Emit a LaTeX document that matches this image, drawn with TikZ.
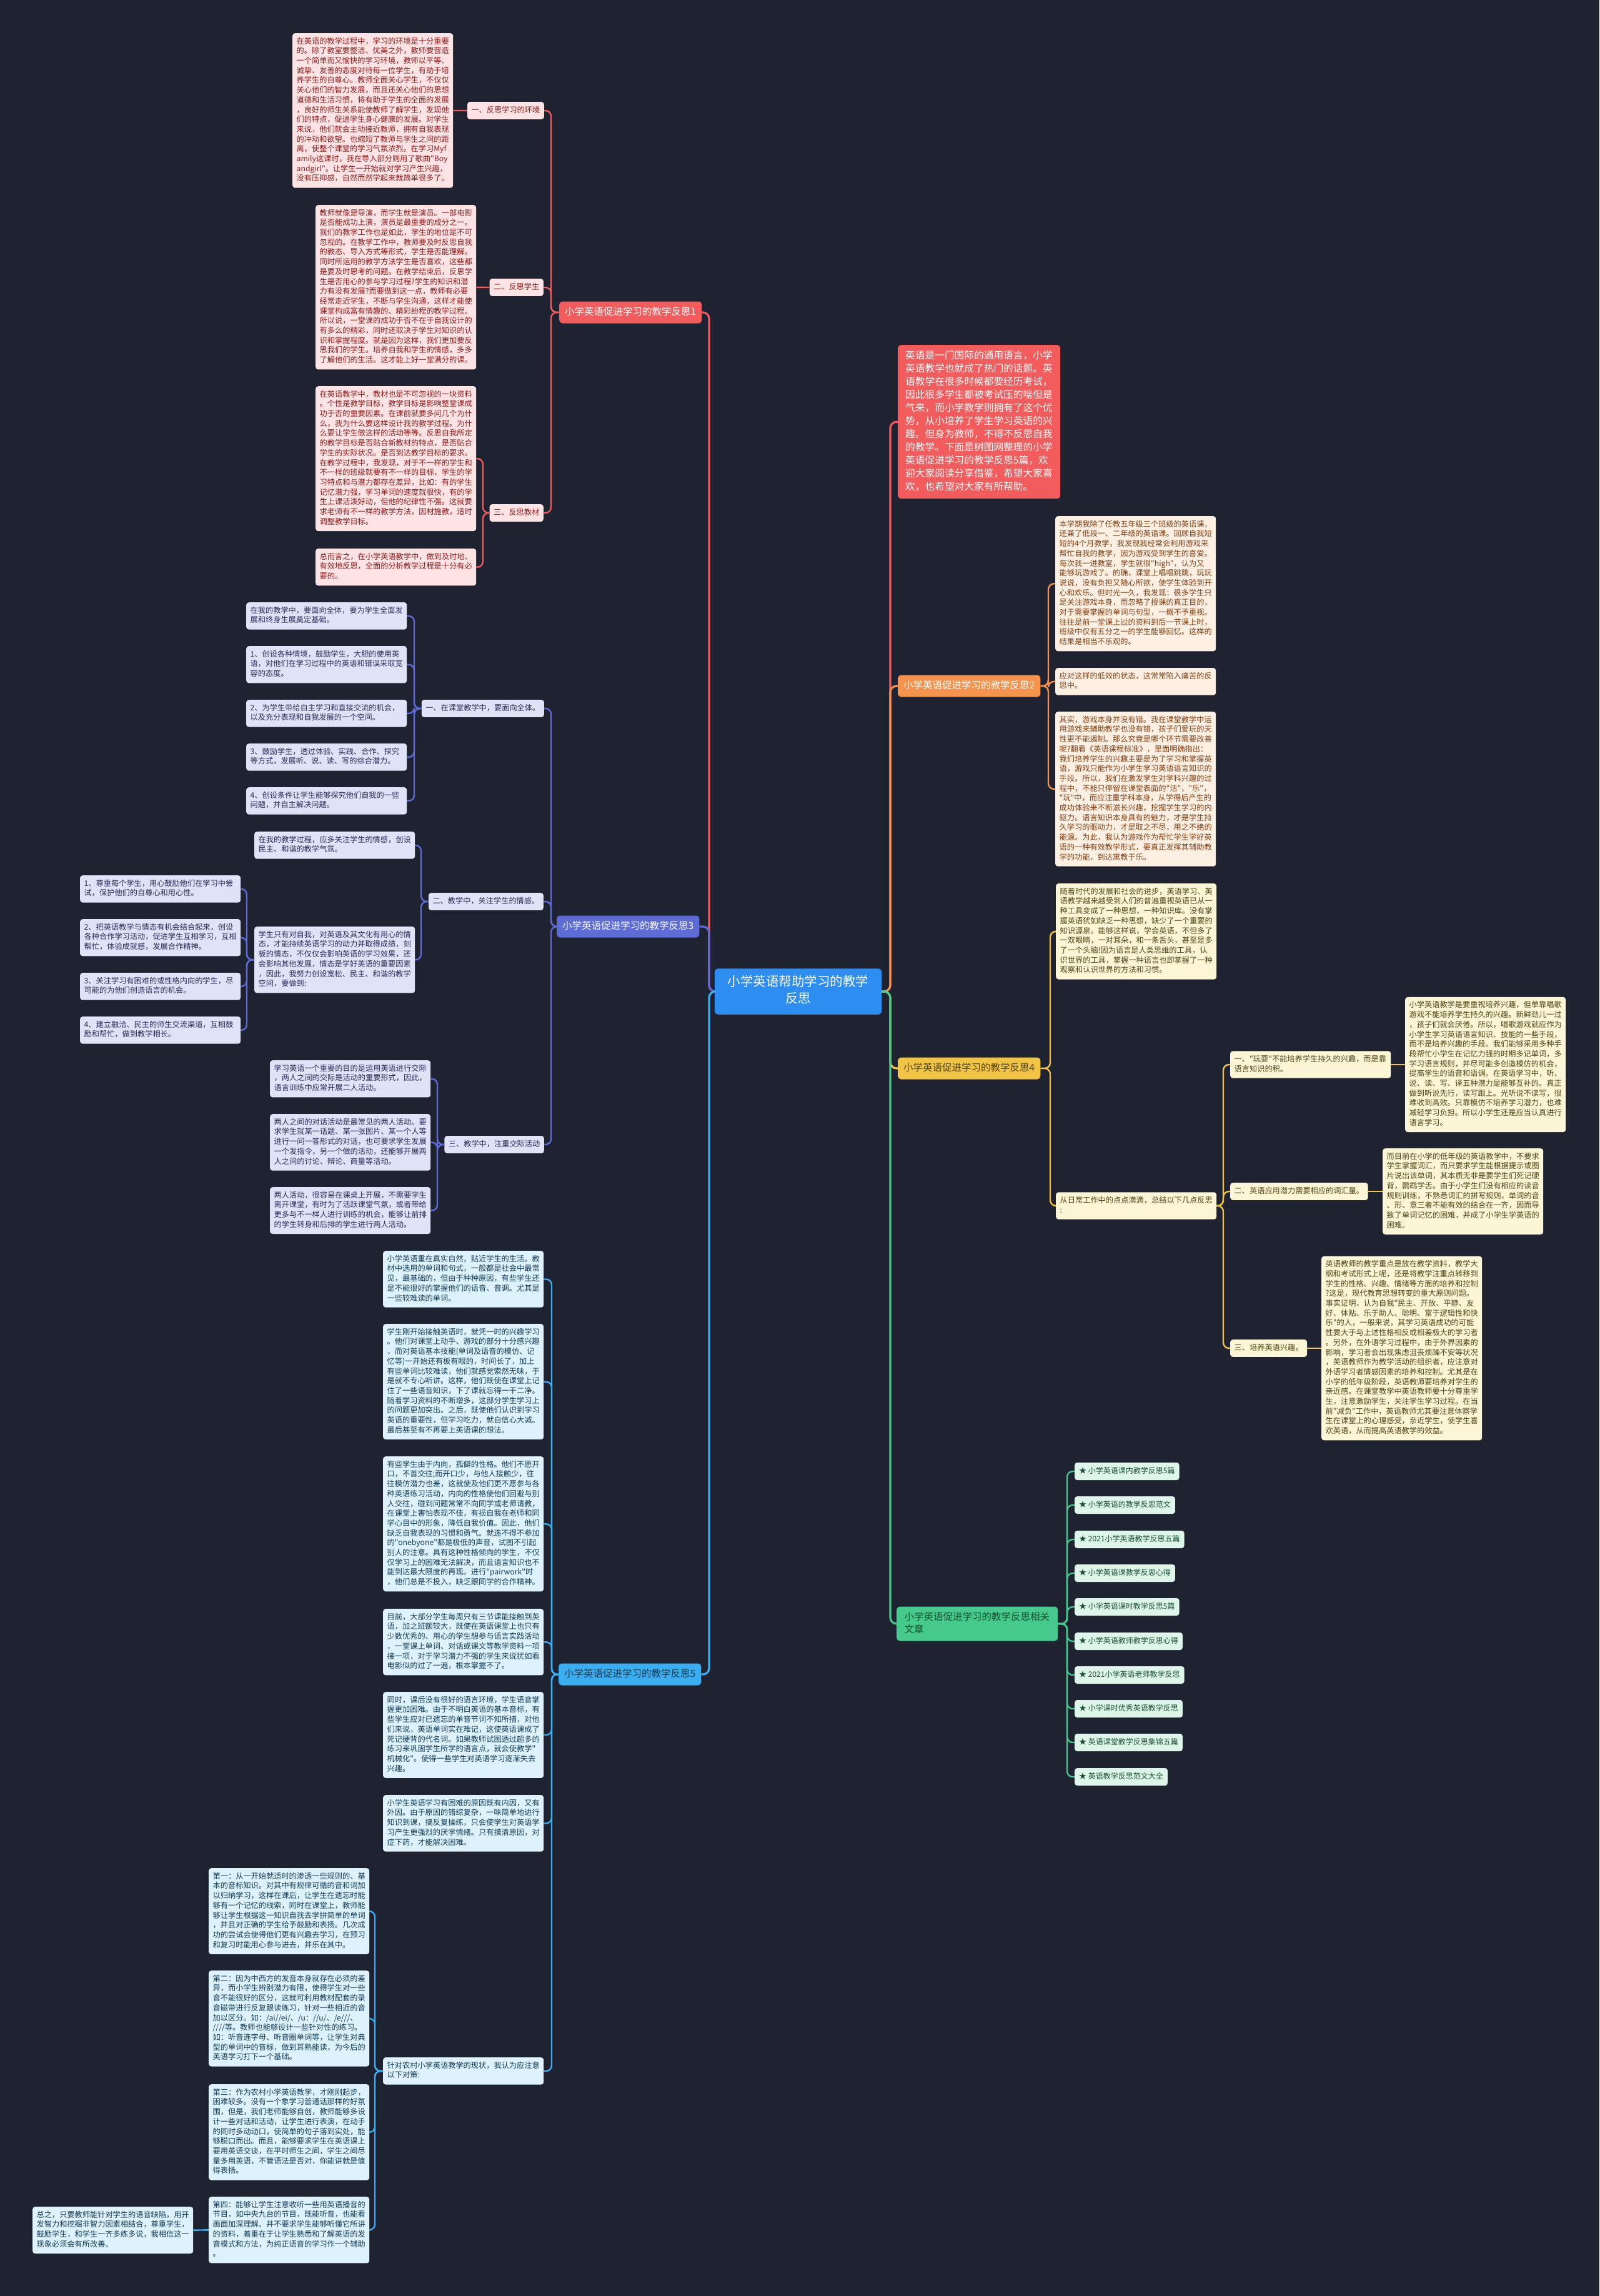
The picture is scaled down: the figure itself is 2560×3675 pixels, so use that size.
\documentclass[tikz,border=0pt]{standalone}
\usepackage{fontspec}
\newfontfamily\cjk{Noto Sans CJK SC}
\definecolor{bgc}{HTML}{1F2230}
\definecolor{cred}{HTML}{F25C5C}
\definecolor{credleaf}{HTML}{FDE3E3}
\definecolor{credtext}{HTML}{8C1C1C}
\definecolor{corg}{HTML}{F5924C}
\definecolor{corgleaf}{HTML}{FDF0E3}
\definecolor{corgtext}{HTML}{7F3F12}
\definecolor{cgold}{HTML}{F2C443}
\definecolor{cgoldleaf}{HTML}{FCF5D6}
\definecolor{cgoldtext}{HTML}{4F4214}
\definecolor{cgrn}{HTML}{45C98C}
\definecolor{cgrnleaf}{HTML}{DDF6E9}
\definecolor{cgrntext}{HTML}{1B4D33}
\definecolor{cind}{HTML}{5E6DD6}
\definecolor{cindleaf}{HTML}{E0E3F8}
\definecolor{cindtext}{HTML}{262B55}
\definecolor{csky}{HTML}{3AAEF0}
\definecolor{cskyleaf}{HTML}{DDF2FD}
\definecolor{cskytext}{HTML}{143A55}
\definecolor{croot}{HTML}{2D8DF0}
\newcommand{\fontleaf}{\cjk\fontsize{12.2pt}{15.7pt}\selectfont}
\newcommand{\fontbranch}{\cjk\fontsize{15.5pt}{20pt}\selectfont}
\newcommand{\fontintro}{\cjk\fontsize{15.7pt}{21pt}\selectfont}
\newcommand{\fontroot}{\cjk\fontsize{20.5pt}{27pt}\selectfont}
\newcommand{\fontlist}{\cjk\fontsize{12pt}{15.5pt}\selectfont}
\tikzset{
  leafbase/.style={rounded corners=4pt, inner xsep=6.5pt, inner ysep=6pt, text width=244pt, align=left, font=\fontleaf, execute at begin node=\strut, execute at end node=\strut},
  labbase/.style={rounded corners=4pt, inner xsep=6.5pt, inner ysep=6pt, font=\fontleaf, execute at begin node=\strut},
  lfred/.style={leafbase, fill=credleaf, text=credtext, anchor=north west},
  lbred/.style={labbase, fill=credleaf, text=credtext, anchor=east},
  lfind/.style={leafbase, fill=cindleaf, text=cindtext, anchor=north west},
  lbind/.style={labbase, fill=cindleaf, text=cindtext, anchor=east},
  lfsky/.style={leafbase, fill=cskyleaf, text=cskytext, anchor=north west},
  lforg/.style={leafbase, fill=corgleaf, text=corgtext, anchor=north west},
  lfgold/.style={leafbase, fill=cgoldleaf, text=cgoldtext, anchor=west},
  lbgold/.style={labbase, fill=cgoldleaf, text=cgoldtext, anchor=west},
  lilist/.style={rounded corners=4pt, inner xsep=7pt, inner ysep=6.25pt, font=\fontlist, fill=cgrnleaf, text=cgrntext, anchor=west, execute at begin node=\strut},
  branchbox/.style={rounded corners=5pt, inner xsep=9pt, inner ysep=7.5pt, font=\fontbranch, execute at begin node=\strut},
  conn/.style={line width=2.4pt, rounded corners=9pt},
  mainconn/.style={line width=3.2pt, rounded corners=10pt}
}
\begin{document}
\begin{tikzpicture}[x=1pt,y=-1pt]
\fill[bgc] (0,0) rectangle (2560,3675);
\useasboundingbox (0,0) rectangle (2560,3675);

% trunk x positions
\coordinate (tL) at (1135,0);
\coordinate (tR) at (1425,0);
\coordinate (tA) at (882,0);
\coordinate (tAc) at (773,0);
\coordinate (tC1) at (663,0);
\coordinate (tC2) at (674,0);
\coordinate (tC2b) at (395,0);
\coordinate (tC3) at (700,0);
\coordinate (tE) at (883,0);
\coordinate (tEz) at (600,0);
\coordinate (tB) at (1678,0);
\coordinate (tD) at (1681,0);
\coordinate (tDb) at (1958,0);
\coordinate (tG) at (1708,0);

% root
\node[rounded corners=6pt, fill=croot, text=white, font=\fontroot, align=center, inner xsep=21pt, inner ysep=10.5pt, execute at begin node=\strut] (root) at (1277.5,1587) {小学英语帮助学习的教学\\反思\strut};

% ===== Branch 1 =====
\node[branchbox, fill=cred, text=white, anchor=west] (b1) at (895,500) {小学英语促进学习的教学反思1};
\node[lbred] (b1l1) at (871,177) {一、反思学习的环境};
\node[lbred] (b1l2) at (870,460) {二、反思学生};
\node[lbred] (b1l3) at (870,821) {三、反思教材};
\node[lfred] (b1a) at (468,53) {在英语的教学过程中，学习的环境是十分重要\\的。除了教室要整洁、优美之外，教师要营造\\一个简单而又愉快的学习环境，教师以平等、\\诚挚、友善的态度对待每一位学生，有助于培\\养学生的自尊心。教师全面关心学生，不仅仅\\关心他们的智力发展，而且还关心他们的思想\\道德和生活习惯，将有助于学生的全面的发展\\，良好的师生关系能使教师了解学生，发现他\\们的特点，促进学生身心健康的发展。对学生\\来说，他们就会主动接近教师，拥有自我表现\\的冲动和欲望。也缩短了教师与学生之间的距\\离，使整个课堂的学习气氛浓烈。在学习Myf\\amily这课时，我在导入部分则用了歌曲"Boy\\andgirl"。让学生一开始就对学习产生兴趣，\\没有压抑感，自然而然学起来就简单很多了。};
\node[lfred] (b1b) at (505,328) {教师就像是导演，而学生就是演员。一部电影\\是否能成功上演，演员是最重要的成分之一。\\我们的教学工作也是如此，学生的地位是不可\\忽视的。在教学工作中，教师要及时反思自我\\的教态、导入方式等形式，学生是否能理解。\\同时所运用的教学方法学生是否喜欢，这些都\\是要及时思考的问题。在教学结束后，反思学\\生是否用心的参与学习过程?学生的知识和潜\\力有没有发展?而要做到这一点，教师有必要\\经常走近学生，不断与学生沟通，这样才能使\\课堂构成富有情趣的、精彩纷程的教学过程。\\所以说，一堂课的成功于否不在于自我设计的\\有多么的精彩，同时还取决于学生对知识的认\\识和掌握程度。就是因为这样，我们更加要反\\思我们的学生。培养自我和学生的情感，多多\\了解他们的生活。这才能上好一堂满分的课。};
\node[lfred] (b1c) at (505,618) {在英语教学中，教材也是不可忽视的一块资料\\。个性是教学目标，教学目标是影响整堂课成\\功于否的重要因素。在课前就要多问几个为什\\么，我为什么要这样设计我的教学过程。为什\\么要让学生做这样的活动等等。反思自我所定\\的教学目标是否贴合新教材的特点，是否贴合\\学生的实际状况。是否到达教学目标的要求。\\在教学过程中，我发现，对于不一样的学生和\\不一样的班级就要有不一样的目标，学生的学\\习特点和与潜力都存在差异，比如：有的学生\\记忆潜力强，学习单词的速度就很快，有的学\\生上课活泼好动，但他的纪律性不强。这就要\\求老师有不一样的教学方法，因材施教，适时\\调整教学目标。};
\node[lfred] (b1d) at (505,878) {总而言之，在小学英语教学中，做到及时地、\\有效地反思，全面的分析教学过程是十分有必\\要的。};

\draw[conn, draw=cred] (b1.west) -- (b1.west -| tA) |- (b1l1.east);
\draw[conn, draw=cred] (b1.west) -- (b1.west -| tA) |- (b1l2.east);
\draw[conn, draw=cred] (b1.west) -- (b1.west -| tA) |- (b1l3.east);
\draw[conn, draw=cred] (b1l1.west) -- (b1a.east);
\draw[conn, draw=cred] (b1l2.west) -- (b1b.east);
\draw[conn, draw=cred] (b1l3.west) -- (b1l3.west -| tAc) |- (b1c.east);
\draw[conn, draw=cred] (b1l3.west) -- (b1l3.west -| tAc) |- (b1d.east);

% ===== Branch 3 =====
\node[branchbox, fill=cind, text=white, anchor=west] (b3) at (891,1483) {小学英语促进学习的教学反思3};
\node[lbind] (b3l1) at (871,1134) {一、在课堂教学中，要面向全体。};
\node[lbind] (b3l2) at (870,1443) {二、教学中，关注学生的情感。};
\node[lbind] (b3l3) at (871,1832) {三、教学中，注重交际活动};
\node[lfind] (b3a1) at (394,964) {在我的教学中，要面向全体，要为学生全面发\\展和终身生展奠定基础。};
\node[lfind] (b3a2) at (394,1034) {1、创设各种情境，鼓励学生，大胆的使用英\\语，对他们在学习过程中的英语和错误采取宽\\容的态度。};
\node[lfind] (b3a3) at (394,1120) {2、为学生带给自主学习和直接交流的机会，\\以及充分表现和自我发展的一个空间。};
\node[lfind] (b3a4) at (394,1190) {3、鼓励学生，透过体验、实践、合作、探究\\等方式，发展听、说、读、写的综合潜力。};
\node[lfind] (b3a5) at (394,1260) {4、创设条件让学生能够探究他们自我的一些\\问题，并自主解决问题。};
\node[lfind] (b3b1) at (407,1331) {在我的教学过程，应多关注学生的情感，创设\\民主、和谐的教学气氛。};
\node[lfind] (b3b2) at (407,1483) {学生只有对自我，对英语及其文化有用心的情\\态，才能持续英语学习的动力并取得成绩，刻\\板的情态，不仅仅会影响英语的学习效果，还\\会影响其他发展，情态是学好英语的重要因素\\，因此，我努力创设宽松、民主、和谐的教学\\空间，要做到:};
\node[lfind] (b3c1) at (128,1401) {1、尊重每个学生，用心鼓励他们在学习中尝\\试，保护他们的自尊心和用心性。};
\node[lfind] (b3c2) at (128,1471) {2、把英语教学与情态有机会结合起来，创设\\各种合作学习活动，促进学生互相学习，互相\\帮忙，体验成就感，发展合作精神。};
\node[lfind] (b3c3) at (128,1557) {3、关注学习有困难的或性格内向的学生，尽\\可能的为他们创造语言的机会。};
\node[lfind] (b3c4) at (128,1627) {4、建立融洽、民主的师生交流渠道，互相鼓\\励和帮忙，做到教学相长。};
\node[lfind] (b3d1) at (432,1697) {学习英语一个重要的目的是运用英语进行交际\\，两人之间的交际是活动的重要形式，因此，\\语言训练中应常开展二人活动。};
\node[lfind] (b3d2) at (432,1783) {两人之间的对话活动是最常见的两人活动。要\\求学生就某一话题、某一张图片、某一个人等\\进行一问一答形式的对话，也可要求学生发展\\一个发指令，另一个做的活动，还能够开展两\\人之间的讨论、辩论、商量等活动。};
\node[lfind] (b3d3) at (432,1900) {两人活动，很容易在课桌上开展，不需要学生\\离开课堂，有时为了活跃课堂气氛，或者带给\\更多与不一样人进行训练的机会，能够让前排\\的学生转身和后排的学生进行两人活动。};

\foreach \n in {b3l1,b3l2,b3l3}
  \draw[conn, draw=cind] (b3.west) -- (b3.west -| tA) |- (\n.east);
\foreach \n in {b3a1,b3a2,b3a3,b3a4,b3a5}
  \draw[conn, draw=cind] (b3l1.west) -- (b3l1.west -| tC1) |- (\n.east);
\foreach \n in {b3b1,b3b2}
  \draw[conn, draw=cind] (b3l2.west) -- (b3l2.west -| tC2) |- (\n.east);
\foreach \n in {b3c1,b3c2,b3c3,b3c4}
  \draw[conn, draw=cind] (b3b2.west) -- (b3b2.west -| tC2b) |- (\n.east);
\foreach \n in {b3d1,b3d2,b3d3}
  \draw[conn, draw=cind] (b3l3.west) -- (b3l3.west -| tC3) |- (\n.east);

% ===== Branch 5 =====
\node[branchbox, fill=csky, text=cskytext, anchor=west] (b5) at (894,2680) {小学英语促进学习的教学反思5};
\node[lfsky] (b5a) at (613,2002) {小学英语重在真实自然，贴近学生的生活。教\\材中选用的单词和句式，一般都是社会中最常\\见，最基础的，但由于种种原因，有些学生还\\是不能很好的掌握他们的语音、音调。尤其是\\一些较难读的单词。};
\node[lfsky] (b5b) at (613,2119) {学生刚开始接触英语时，就凭一时的兴趣学习\\。他们对课堂上动手、游戏的部分十分感兴趣\\，而对英语基本技能(单词及语音的模仿、记\\忆等)一开始还有板有眼的，时间长了，加上\\有些单词比较难读，他们就感觉索然无味，于\\是就不专心听讲。这样，他们既使在课堂上记\\住了一些语音知识，下了课就忘得一干二净。\\随着学习资料的不断增多，这部分学生学习上\\的问题更加突出。之后，既使他们认识到学习\\英语的重要性，但学习吃力，就自信心大减。\\最后甚至有不再要上英语课的想法。};
\node[lfsky] (b5c) at (613,2331) {有些学生由于内向，孤僻的性格。他们不愿开\\口，不善交往;而开口少，与他人接触少，往\\往模仿潜力也差，这就使及他们更不愿参与各\\种英语练习活动，内向的性格使他们回避与别\\人交往，碰到问题常常不向同学或老师请教，\\在课堂上害怕表现不佳，有损自我在老师和同\\学心目中的形象，降低自我价值。因此，他们\\缺乏自我表现的习惯和勇气。就连不得不参加\\的"onebyone"都是极低的声音，试图不引起\\别人的注意。具有这种性格倾向的学生，不仅\\仅学习上的困难无法解决，而且语言知识也不\\能到达最大限度的再现。进行"pairwork"时\\，他们总是不投入，缺乏跟同学的合作精神。};
\node[lfsky] (b5d) at (613,2575) {目前，大部分学生每周只有三节课能接触到英\\语，加之班额较大，既使在英语课堂上也只有\\少数优秀的、用心的学生想参与语言实践活动\\，一堂课上单词、对话或课文等教学资料一项\\接一项，对于学习潜力不强的学生来说犹如看\\电影似的过了一遍，根本掌握不了。};
\node[lfsky] (b5e) at (613,2708) {同时，课后没有很好的语言环境，学生语音掌\\握更加困难。由于不明白英语的基本音标，有\\些学生应对已遗忘的单音节词不知所措，对他\\们来说，英语单词实在难记，这使英语课成了\\死记硬背的代名词。如果教师试图透过超多的\\练习来巩固学生所学的语言点，就会使教学"\\机械化"。使得一些学生对英语学习逐渐失去\\兴趣。};
\node[lfsky] (b5f) at (613,2873) {小学生英语学习有困难的原因既有内因，又有\\外因。由于原因的错综复杂，一味简单地进行\\知识到课，搞反复操练，只会使学生对英语学\\习产生更强烈的厌学情绪。只有摸清原因，对\\症下药，才能解决困难。};
\node[lfsky] (b5g) at (613,3293) {针对农村小学英语教学的现状，我认为应注意\\以下对策:};
\node[lfsky] (b5g1) at (334,2990) {第一：从一开始就适时的渗透一些规则的、基\\本的音标知识。对其中有规律可循的音和词加\\以归纳学习，这样在课后，让学生在遗忘时能\\够有一个记忆的线索，同时在课堂上，教师能\\够让学生根据这一知识自我去学拼简单的单词\\，并且对正确的学生给予鼓励和表扬。几次成\\功的尝试会使得他们更有兴趣去学习，在预习\\和复习时能用心参与进去，并乐在其中。};
\node[lfsky] (b5g2) at (334,3154) {第二：因为中西方的发音本身就存在必须的差\\异，而小学生辨别潜力有限，使得学生对一些\\音不能很好的区分，这就可利用教材配套的录\\音磁带进行反复跟读练习，针对一些相近的音\\加以区分。如：/ai//ei/、/u：//u/、/e///、\\////等。教师也能够设计一些针对性的练习。\\如：听音连字母、听音圈单词等，让学生对典\\型的单词中的音标，做到耳熟能读，为今后的\\英语学习打下一个基础。};
\node[lfsky] (b5g3) at (334,3336) {第三：作为农村小学英语教学，才刚刚起步，\\困难较多。没有一个象学习普通话那样的好氛\\围，但是，我们老师能够自创，教师能够多设\\计一些对话和活动，让学生进行表演，在动手\\的同时多动动口，使简单的句子落到实处，能\\够脱口而出。而且，能够要求学生在英语课上\\要用英语交谈，在平时师生之间，学生之间尽\\量多用英语，不管语法是否对，你能讲就是值\\得表扬。};
\node[lfsky] (b5g4) at (334,3516) {第四：能够让学生注意收听一些用英语播音的\\节目，如中央九台的节目，既能听音，也能看\\画面加深理解。并不要求学生能够听懂它所讲\\的资料，着重在于让学生熟悉和了解英语的发\\音模式和方法，为纯正语音的学习作一个辅助\\。};
\node[lfsky] (b5h) at (52,3532) {总之，只要教师能针对学生的语音缺陷，用开\\发智力和挖掘非智力因素相结合，尊重学生，\\鼓励学生，和学生一齐多练多说，我相信这一\\现象必须会有所改善。};

\foreach \n in {b5a,b5b,b5c,b5d,b5e,b5f,b5g}
  \draw[conn, draw=csky] (b5.west) -- (b5.west -| tE) |- (\n.east);
\foreach \n in {b5g1,b5g2,b5g3,b5g4}
  \draw[conn, draw=csky] (b5g.west) -- (b5g.west -| tEz) |- (\n.east);
\draw[conn, draw=csky] (b5g4.west) -- (b5h.east);

% ===== Right side =====
\node[rounded corners=5pt, fill=cred, text=white, font=\fontintro, text width=236pt, align=left, inner xsep=12pt, inner ysep=7.5pt, anchor=north west, execute at begin node=\strut, execute at end node=\strut] (intro) at (1437,552) {英语是一门国际的通用语言，小学\\英语教学也就成了热门的话题。英\\语教学在很多时候都要经历考试，\\因此很多学生都被考试压的喘但是\\气来，而小学教学则拥有了这个优\\势，从小培养了学生学习英语的兴\\趣。但身为教师，不得不反思自我\\的教学。下面是树图网整理的小学\\英语促进学习的教学反思5篇，欢\\迎大家阅读分享借鉴，希望大家喜\\欢，也希望对大家有所帮助。};

% Branch 2
\node[branchbox, fill=corg, text=white, anchor=west] (b2) at (1437,1098) {小学英语促进学习的教学反思2};
\node[lforg] (b2a) at (1689,826) {本学期我除了任教五年级三个班级的英语课，\\还兼了低段一、二年级的英语课。回顾自我短\\短的4个月教学，我发现我经常会利用游戏来\\帮忙自我的教学，因为游戏受到学生的喜爱。\\每次我一进教室，学生就很"high"，认为又\\能够玩游戏了。的确，课堂上唱唱跳跳，玩玩\\说说，没有负担又随心所欲，使学生体验到开\\心和欢乐。但时光一久，我发现：很多学生只\\是关注游戏本身，而忽略了授课的真正目的，\\对于需要掌握的单词与句型，一概不予重视。\\往往是前一堂课上过的资料到后一节课上时，\\班级中仅有五分之一的学生能够回忆。这样的\\结果是相当不乐观的。};
\node[lforg] (b2b) at (1689,1069) {应对这样的低效的状态，这常常陷入痛苦的反\\思中。};
\node[lforg] (b2c) at (1689,1139) {其实，游戏本身并没有错。我在课堂教学中运\\用游戏来辅助教学也没有错，孩子们爱玩的天\\性更不能遏制。那么究竟是哪个环节需要改善\\呢?翻看《英语课程标准》，里面明确指出：\\我们培养学生的兴趣主要是为了学习和掌握英\\语，游戏只能作为小学生学习英语语言知识的\\手段。所以，我们在激发学生对学科兴趣的过\\程中，不能只停留在课堂表面的"活"，"乐"，\\"玩"中，而应注重学科本身，从学得后产生的\\成功体验来不断滋长兴趣，挖掘学生学习的内\\驱力。语言知识本身具有的魅力，才是学生持\\久学习的驱动力，才是取之不尽，用之不绝的\\能源。为此，我认为游戏作为帮忙学生学好英\\语的一种有效教学形式，要真正发挥其辅助教\\学的功能，到达寓教于乐。};
\foreach \n in {b2a,b2b,b2c}
  \draw[conn, draw=corg] (b2.east) -- (b2.east -| tB) |- (\n.west);

% Branch 4
\node[branchbox, fill=cgold, text=cgoldtext, anchor=west] (b4) at (1437,1710) {小学英语促进学习的教学反思4};
\node[lfgold, anchor=north west] (b4a) at (1690,1414) {随着时代的发展和社会的进步，英语学习、英\\语教学越来越受到人们的普遍重视英语已从一\\种工具变成了一种思想，一种知识库。没有掌\\握英语犹如缺乏一种思想，缺少了一个重要的\\知识源泉。能够这样说，学会英语，不但多了\\一双眼睛，一对耳朵，和一条舌头，甚至是多\\了一个头脑!因为语言是人类思维的工具，认\\识世界的工具，掌握一种语言也即掌握了一种\\观察和认识世界的方法和习惯。};
\node[lfgold] (b4b) at (1690,1930) {从日常工作中的点点滴滴，总结以下几点反思\\:};
\node[lfgold] (b4l1) at (1969,1704) {一、"玩耍"不能培养学生持久的兴趣，而是靠\\语言知识的积。};
\node[lbgold] (b4l2) at (1969,1907) {二、英语应用潜力需要相应的词汇量。};
\node[lbgold] (b4l3) at (1969,2158) {三、培养英语兴趣。};
\node[lfgold] (b4c1) at (2249,1704) {小学英语教学是要重视培养兴趣，但单靠唱歌\\游戏不能培养学生持久的兴趣。新鲜劲儿一过\\，孩子们就会厌倦。所以，唱歌游戏就应作为\\小学生学习英语语言知识、技能的一些手段，\\而不是培养兴趣的手段。我们能够采用多种手\\段帮忙小学生在记忆力强的时期多记单词，多\\学习语言规则，并尽可能多创造模仿的机会，\\提高学生的语音和语调。在英语学习中，听、\\说、读、写、译五种潜力是能够互补的。真正\\做到听说先行，读写跟上。光听说不读写，很\\难收到高效。只靠模仿不培养学习潜力，也难\\减轻学习负担。所以小学生还是应当认真进行\\语言学习。};
\node[lfgold] (b4c2) at (2213,1907) {而目前在小学的低年级的英语教学中，不要求\\学生掌握词汇，而只要求学生能根据提示或图\\片说出该单词，其本质无非是要学生们死记硬\\背，鹦鹉学舌。由于小学生们没有相应的读音\\规则训练，不熟悉词汇的拼写规则，单词的音\\、形、意三者不能有效的结合在一齐，因而导\\致了单词记忆的困难，并成了小学生学英语的\\困难。};
\node[lfgold] (b4c3) at (2115,2158) {英语教师的教学重点是放在教学资料，教学大\\纲和考试形式上呢，还是将教学注重点转移到\\学生的性格、兴趣、情绪等方面的培养和控制\\?这是，现代教育思想转变的重大原则问题。\\事实证明，认为自我"民主、开放、平静、友\\好、体贴、乐于助人、聪明、富于逻辑性和快\\乐"的人，一般来说，其学习英语成功的可能\\性要大于与上述性格相反或相差极大的学习者\\。另外，在外语学习过程中，由于外界因素的\\影响，学习者会出现焦虑沮丧烦躁不安等状况\\，英语教师作为教学活动的组织者，应注意对\\外语学习者情感因素的培养和控制。尤其是在\\小学的低年级阶段，英语教师要培养对学生的\\亲近感。在课堂教学中英语教师要十分尊重学\\生，注意激励学生，关注学生学习过程。在当\\前"减负"工作中，英语教师尤其要注意体察学\\生在课堂上的心理感受，亲近学生，使学生喜\\欢英语，从而提高英语教学的效益。};
\foreach \n in {b4a,b4b}
  \draw[conn, draw=cgold] (b4.east) -- (b4.east -| tD) |- (\n.west);
\foreach \n in {b4l1,b4l2,b4l3}
  \draw[conn, draw=cgold] (b4b.east) -- (b4b.east -| tDb) |- (\n.west);
\draw[conn, draw=cgold] (b4l1.east) -- (b4c1.west);
\draw[conn, draw=cgold] (b4l2.east) -- (b4c2.west);
\draw[conn, draw=cgold] (b4l3.east) -- (b4c3.west);

% Related
\node[branchbox, fill=cgrn, text=cgrntext, text width=233pt, align=left, inner xsep=12.5pt, anchor=west, execute at end node=\strut] (b6) at (1435,2599) {小学英语促进学习的教学反思相关\\文章};
\node[lilist] (r1) at (1720,2355) {★ 小学英语课内教学反思5篇};
\node[lilist] (r2) at (1720,2409) {★ 小学英语的教学反思范文};
\node[lilist] (r3) at (1720,2464) {★ 2021小学英语教学反思五篇};
\node[lilist] (r4) at (1720,2518) {★ 小学英语课教学反思心得};
\node[lilist] (r5) at (1720,2572) {★ 小学英语课时教学反思5篇};
\node[lilist] (r6) at (1720,2627) {★ 小学英语教师教学反思心得};
\node[lilist] (r7) at (1720,2681) {★ 2021小学英语老师教学反思};
\node[lilist] (r8) at (1720,2735) {★ 小学课时优秀英语教学反思};
\node[lilist] (r9) at (1720,2789) {★ 英语课堂教学反思集锦五篇};
\node[lilist] (r10) at (1720,2844) {★ 英语教学反思范文大全};
\foreach \n in {r1,r2,r3,r4,r5,r6,r7,r8,r9,r10}
  \draw[conn, draw=cgrn] (b6.east) -- (b6.east -| tG) |- (\n.west);

% main connectors
\draw[mainconn, draw=cred] (root.west) -- (root.west -| tL) |- (b1.east);
\draw[mainconn, draw=cind] (root.west) -- (root.west -| tL) |- (b3.east);
\draw[mainconn, draw=csky] (root.west) -- (root.west -| tL) |- (b5.east);
\draw[mainconn, draw=cred] (root.east) -- (root.east -| tR) |- (intro.west);
\draw[mainconn, draw=corg] (root.east) -- (root.east -| tR) |- (b2.west);
\draw[mainconn, draw=cgold] (root.east) -- (root.east -| tR) |- (b4.west);
\draw[mainconn, draw=cgrn] (root.east) -- (root.east -| tR) |- (b6.west);
\end{tikzpicture}
\end{document}
